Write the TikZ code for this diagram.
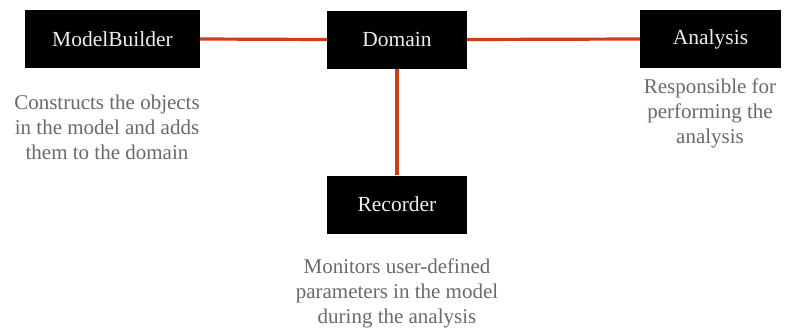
\documentclass[tikz,border=0pt]{standalone}
\usepackage{fontspec}
\setmainfont{Liberation Serif}
\definecolor{linkred}{RGB}{205,62,22}
\definecolor{desc}{RGB}{105,105,110}
\definecolor{labelwhite}{RGB}{235,238,242}
\begin{document}
\begin{tikzpicture}[x=1pt,y=-1pt,
  block/.style={fill=black,text=labelwhite,minimum height=58pt,inner sep=0pt,font=\fontsize{21.5}{24}\selectfont},
  note/.style={text=desc,align=center,inner sep=0pt,font=\fontsize{21}{25}\selectfont},
  link/.style={draw=linkred,line width=3.2pt}]
\useasboundingbox (0,0) rectangle (796,333);
\node[block,minimum width=175pt] (mb) at (112.5,39) {ModelBuilder};
\node[block,minimum width=140pt] (dom) at (397,39.5) {Domain};
\node[block,minimum width=141pt] (an) at (710.5,39) {Analysis};
\node[block,minimum width=140pt] (rec) at (397,204.5) {Recorder};
\draw[link] (mb.east) -- (dom.west);
\draw[link] (dom.east) -- (an.west);
\draw[link] (dom.south) -- (rec.north);
\node[note] (mbnote) at (107,127) {Constructs the objects\\in the model and adds\\them to the domain};
\node[note] (annote) at (710,113) {Responsible for\\performing the\\analysis};
\node[note] (recnote) at (397,293) {Monitors user-defined\\parameters in the model\\during the analysis};
\end{tikzpicture}
\end{document}
